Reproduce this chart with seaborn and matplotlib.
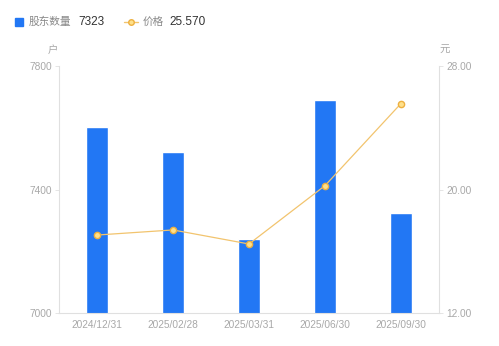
import matplotlib
matplotlib.use("Agg")
import matplotlib.pyplot as plt
import seaborn as sns
import pandas as pd
import numpy as np

dates = ["2024/12/31", "2025/02/28", "2025/03/31", "2025/06/30", "2025/09/30"]
holders = [7603, 7522, 7241, 7689, 7323]
prices = [17.05, 17.38, 16.47, 20.25, 25.57]
left_ticks = [7000, 7400, 7800]
right_ticks = [12.0, 20.0, 28.0]

sns.set_theme(style="white")
plt.rcParams['font.family'] = ['Liberation Sans', 'Noto Sans CJK SC', 'DejaVu Sans']

df = pd.DataFrame({"date": dates, "holders": holders, "price": prices})

fig = plt.figure(figsize=(4.99, 3.46), dpi=100)
ax = fig.add_axes([59/499, 33/346, 380/499, 247/346])
sns.barplot(data=df, x="date", y="holders", color="#2277F4", width=0.3,
            saturation=1, ax=ax)
ax.set_ylim(7000, 7800)
ax.set_xlim(-0.5, 4.5)
ax.set_yticks(left_ticks)
ax.set_yticklabels([str(t) for t in left_ticks])
ax.set_xlabel("")
ax.set_ylabel("")

ax2 = ax.twinx()
sns.lineplot(x=np.arange(len(dates)), y=prices, ax=ax2, color="#F2C46E",
             linewidth=0.9, marker="o", markersize=4.5,
             markerfacecolor="#FFE08A", markeredgecolor="#EDB040",
             markeredgewidth=1.0)
ax2.set_ylim(12, 28)
ax2.set_yticks(right_ticks)
ax2.set_yticklabels([f"{t:.2f}" for t in right_ticks])

grey = "#A8A8A8"
spine_c = "#E0E0E0"
for a in (ax, ax2):
    for s in a.spines.values():
        s.set_visible(False)
    a.tick_params(labelsize=7.3, colors=grey, length=3, width=0.6, pad=2)
    a.tick_params(axis="y", color=spine_c)
ax.spines["left"].set_visible(True)
ax.spines["left"].set_color(spine_c)
ax.spines["left"].set_linewidth(0.8)
ax.spines["bottom"].set_visible(True)
ax.spines["bottom"].set_color(spine_c)
ax.spines["bottom"].set_linewidth(0.8)
ax2.spines["right"].set_visible(True)
ax2.spines["right"].set_color(spine_c)
ax2.spines["right"].set_linewidth(0.8)
ax.tick_params(axis="x", length=0, pad=5)
ax.grid(False)
ax2.grid(False)

# units
fig.text(53/499, 1 - 50/346, "户", fontsize=7.5, color=grey, ha="center", va="center")
fig.text(445/499, 1 - 50/346, "元", fontsize=7.5, color=grey, ha="center", va="center")

# legend
fig.patches.append(plt.Rectangle((15/499, 1 - 26/346), 8/499, 8/346,
                                 transform=fig.transFigure, color="#2277F4"))
fig.text(29/499, 1 - 22/346, "股东数量", fontsize=7.7, color="#888888", va="center")
fig.text(78/499, 1 - 22/346, "7323", fontsize=8.5, color="#333333", va="center")
fig.lines.append(plt.Line2D([124/499, 138/499], [1 - 22/346, 1 - 22/346],
                            transform=fig.transFigure, color="#F2C46E", lw=1))
fig.lines.append(plt.Line2D([131/499], [1 - 22/346], transform=fig.transFigure,
                            marker="o", markersize=4, markerfacecolor="#FFE08A",
                            markeredgecolor="#EDB040", markeredgewidth=1))
fig.text(143/499, 1 - 22/346, "价格", fontsize=7.7, color="#888888", va="center")
fig.text(169/499, 1 - 22/346, "25.570", fontsize=8.5, color="#333333", va="center")

fig.savefig("out.png", dpi=100)
